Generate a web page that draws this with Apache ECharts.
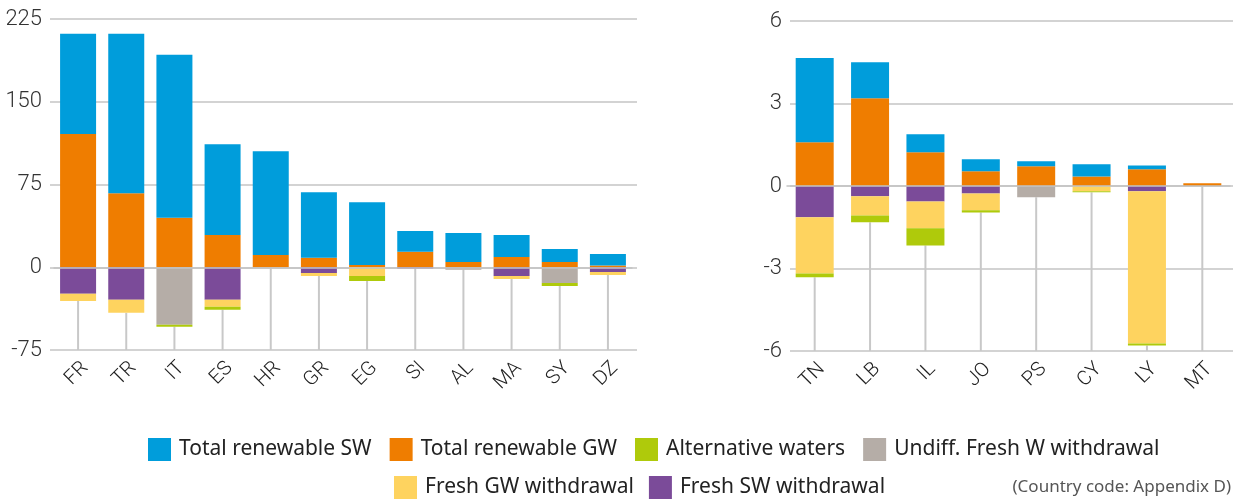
<!DOCTYPE html>
<html><head><meta charset="utf-8">
<script src="https://cdn.jsdelivr.net/npm/echarts@6/dist/echarts.min.js"></script>
<style>html,body{margin:0;padding:0;background:#fff}#c{width:1242px;height:501px}</style>
</head><body><div id="c"></div>
<script>
const leftCats = ['FR','TR','IT','ES','HR','GR','EG','SI','AL','MA','SY','DZ'];
const leftSW = [91, 144.6, 147.9, 82.2, 94, 59.3, 56.9, 18.7, 26.2, 19.9, 11.7, 10.5];
const leftGW = [120.7, 67.1, 44.8, 29.2, 11.1, 8.7, 2.1, 14.1, 4.8, 9.3, 4.8, 1.5];
const leftFreshSWW = [-24.1, -29.5, 0, -29.5, 0, -5.2, 0, -1.2, 0, -7.9, 0, -4.2];
const leftUndiff = [0, 0, -52.1, 0, 0, 0, 0, 0, -2.2, 0, -14.2, 0];
const leftFreshGWW = [-6.4, -11.8, 0, -6.3, 0, -2.7, -7.9, 0, 0, -2.7, 0, -2.8];
const leftAlt = [0, 0, -1.8, -2.7, 0, 0, -4.5, 0, 0, 0, -2.7, 0];
const leftTicks = {min: -75, max: 225, interval: 75};

const rightCats = ['TN','LB','IL','JO','PS','CY','LY','MT'];
const rightSW = [3.06, 1.31, 0.65, 0.43, 0.18, 0.44, 0.14, 0];
const rightGW = [1.59, 3.19, 1.23, 0.54, 0.72, 0.35, 0.61, 0.1];
const rightFreshSWW = [-1.14, -0.37, -0.56, -0.27, 0, 0, -0.19, 0];
const rightUndiff = [0, 0, 0, 0, -0.41, 0, 0, 0];
const rightFreshGWW = [-2.04, -0.70, -0.98, -0.61, 0, -0.19, -5.54, 0];
const rightAlt = [-0.14, -0.25, -0.62, -0.08, 0, -0.04, -0.07, 0];
const rightTicks = {min: -6, max: 6, interval: 3};

const names = ['Total renewable SW','Total renewable GW','Alternative waters','Undiff. Fresh W withdrawal','Fresh GW withdrawal','Fresh SW withdrawal'];
const colors = {
  'Total renewable SW':'#009ddb','Total renewable GW':'#ef7d00','Alternative waters':'#afca0b',
  'Undiff. Fresh W withdrawal':'#b5ada7','Fresh GW withdrawal':'#fed35f','Fresh SW withdrawal':'#7b4b99'
};
const FONT = 'Roboto';
const LFONT = 'Noto Sans';

function build(idx, cats, sw, gw, fsw, und, fgw, alt, ticks, barW) {
  const stack = 's' + idx;
  const mk = (name, data) => ({
    type:'bar', name, data, stack, xAxisIndex: idx, yAxisIndex: idx,
    barWidth: barW, itemStyle:{color: colors[name]}, z: 3, animation:false
  });
  const neg = cats.map((c,i) => [i, fsw[i] + und[i] + fgw[i] + alt[i]]);
  const lines = {
    type:'custom', xAxisIndex: idx, yAxisIndex: idx, z: 1, silent:true, animation:false,
    data: neg,
    renderItem: (params, api) => {
      const p1 = api.coord([api.value(0), api.value(1)]);
      const p2 = api.coord([api.value(0), ticks.min]);
      return {type:'line', shape:{x1:p1[0], y1:p1[1], x2:p2[0], y2:p2[1]},
        style:{stroke:'#c8c8c8', lineWidth:2}};
    }
  };
  return [
    mk('Total renewable GW', gw), mk('Total renewable SW', sw),
    mk('Fresh SW withdrawal', fsw), mk('Undiff. Fresh W withdrawal', und),
    mk('Fresh GW withdrawal', fgw), mk('Alternative waters', alt), lines
  ];
}

const xBg = (g, cats) => ({type:'category', gridIndex:g, data:cats, show:false});
const yBg = (g, t) => ({
  type:'value', gridIndex:g, min:t.min, max:t.max, interval:t.interval,
  axisLine:{show:false}, axisTick:{show:false},
  splitLine:{lineStyle:{color:'#c4c4c4', width:1.5}},
  axisLabel:{fontFamily:FONT, fontSize:22, color:'#333', margin:8, fontWeight:300}
});
const xBar = (g, cats) => ({
  type:'category', gridIndex:g, data:cats, z:10,
  axisLine:{show:true, onZero:true, lineStyle:{color:'#c4c4c4', width:1.5}}, axisTick:{show:false},
  axisLabel:{rotate:45, fontFamily:FONT, fontSize:20, color:'#222', margin:8, interval:0,
    fontWeight:300, verticalAlign:'top'}
});
const yBar = (g, t) => ({type:'value', gridIndex:g, min:t.min, max:t.max, interval:t.interval, show:false,
  splitLine:{show:false}});

const chart = echarts.init(document.getElementById('c'), null, {renderer:'canvas'});
chart.setOption({
  animation:false,
  grid:[
    {left:54, right:610, top:19, bottom:151},
    {left:787, right:12, top:21, bottom:150},
    {left:50, right:605, top:19, bottom:151},
    {left:790, right:9, top:21, bottom:150}
  ],
  xAxis:[xBar(0, leftCats), xBar(1, rightCats), xBg(2, leftCats), xBg(3, rightCats)],
  yAxis:[yBar(0, leftTicks), yBar(1, rightTicks), yBg(2, leftTicks), yBg(3, rightTicks)],
  legend:[
    {data:names.slice(0,4), left:143, top:433, icon:'rect', itemWidth:23, itemHeight:23, itemGap:18,
     textStyle:{fontFamily:LFONT, fontSize:21, color:'#222', padding:[2,0,0,3]}, selectedMode:false},
    {data:names.slice(4), left:389, top:471, icon:'rect', itemWidth:23, itemHeight:23, itemGap:15,
     textStyle:{fontFamily:LFONT, fontSize:21, color:'#222', padding:[2,0,0,3]}, selectedMode:false}
  ],
  graphic:[{type:'text', right:11, top:479,
    style:{text:'(Country code: Appendix D)', fontFamily:LFONT, fontSize:17, fill:'#555'}}],
  series:[
    ...build(0, leftCats, leftSW, leftGW, leftFreshSWW, leftUndiff, leftFreshGWW, leftAlt, leftTicks, 36),
    ...build(1, rightCats, rightSW, rightGW, rightFreshSWW, rightUndiff, rightFreshGWW, rightAlt, rightTicks, 38)
  ]
});
</script></body></html>
